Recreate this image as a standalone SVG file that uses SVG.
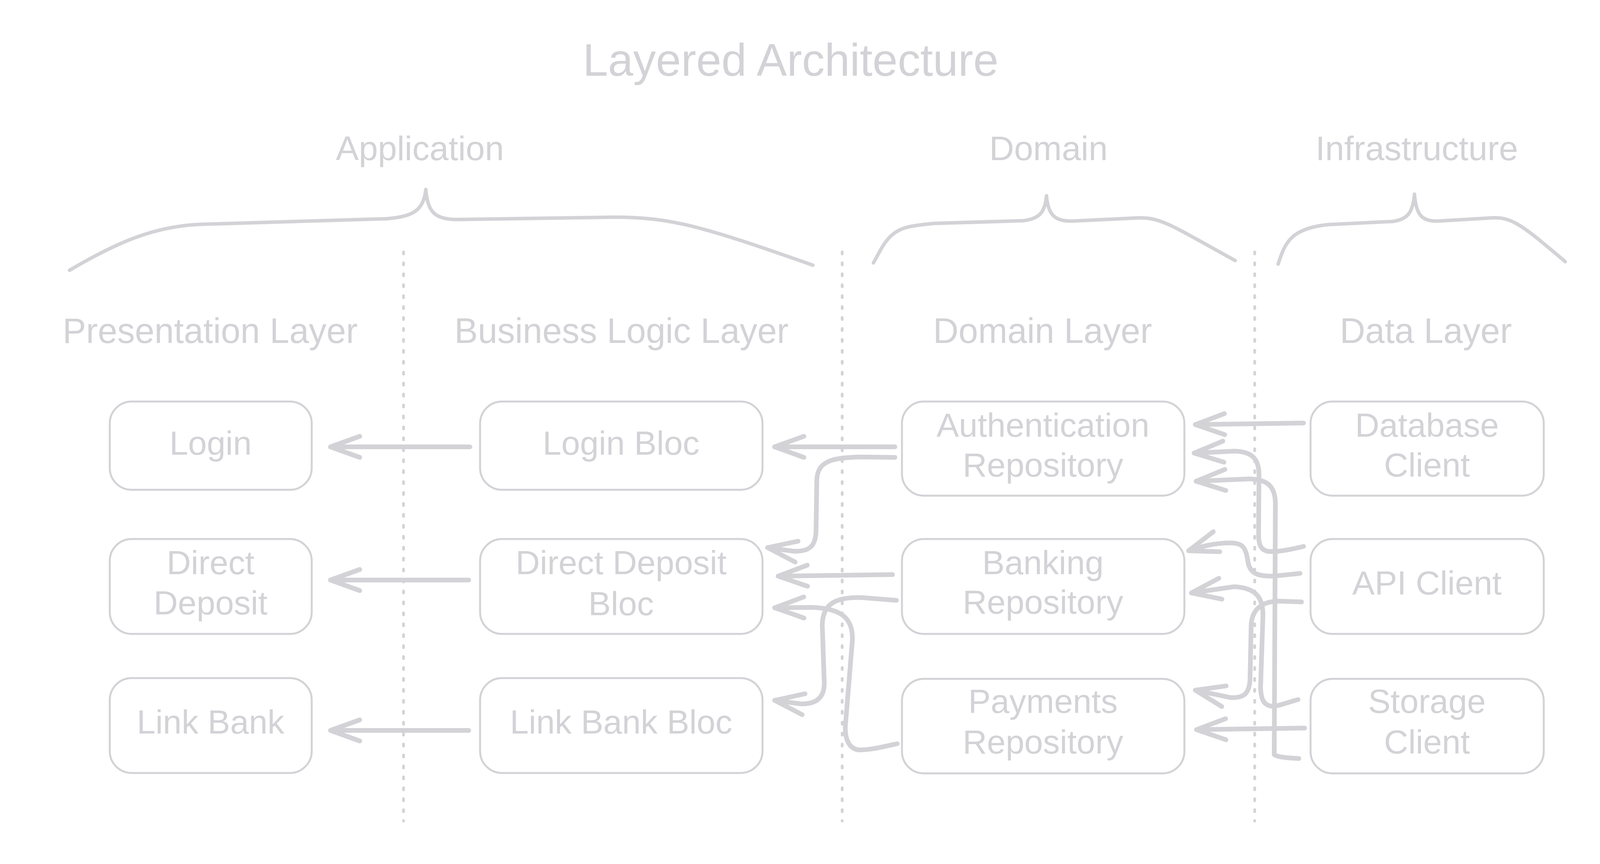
<svg xmlns="http://www.w3.org/2000/svg" width="4115" height="2212" viewBox="0 0 4115 2212">
<style>
.bg{fill:#ffffff}
.box{fill:none;stroke:#d3d2d6;stroke-width:5}
.conn{fill:none;stroke:#d3d2d6;stroke-width:12;stroke-linecap:round;stroke-linejoin:round;marker-end:url(#ah)}
.brace{fill:none;stroke:#d3d2d6;stroke-width:9;stroke-linecap:round;stroke-linejoin:round}
.divider{fill:none;stroke:#d3d2d6;stroke-width:7;stroke-linecap:round;stroke-dasharray:5 23}
text{font-family:"Liberation Sans",Arial,sans-serif;fill:#d3d2d6;text-anchor:middle}
.title{font-size:116px}
.group{font-size:88px}
.layer{font-size:90px}
.label{font-size:86px}
</style>
<defs>
<marker id="ah" markerUnits="userSpaceOnUse" markerWidth="100" markerHeight="80" viewBox="-90 -40 100 80" refX="0" refY="0" orient="auto" overflow="visible">
<path d="M-75,-27 L0,0 L-75,27" fill="none" stroke="#d3d2d6" stroke-width="12" stroke-linecap="round" stroke-linejoin="round"/>
</marker>
</defs>
<rect class="bg" x="0" y="0" width="4115" height="2212"/>

<g id="title">
<text class="title" x="2024" y="194">Layered Architecture</text>
</g>

<g id="groups">
<text class="group" x="1075" y="410">Application</text>
<text class="group" x="2684" y="410">Domain</text>
<text class="group" x="3627" y="410">Infrastructure</text>
</g>

<g id="braces">
<path class="brace" d="M178,692 C300,620 400,576 525,574 L990,560 C1055,555 1085,540 1090,485 C1095,540 1110,562 1170,562 L1570,556 C1720,556 1800,580 2081,679"/>
<path class="brace" d="M2236,673 C2260,630 2275,590 2330,580 C2350,576 2370,574 2390,572 L2620,565 C2660,560 2675,545 2679,501 C2683,550 2700,567 2745,566 L2910,558 C2970,555 2995,575 3162,667"/>
<path class="brace" d="M3272,676 C3290,620 3305,585 3400,575 L3565,567 C3600,562 3617,548 3621,497 C3625,550 3640,567 3680,566 L3815,558 C3870,554 3895,575 4007,670"/>
</g>

<g id="dividers">
<line class="divider" x1="1033" y1="645" x2="1033" y2="2102"/>
<line class="divider" x1="2156" y1="645" x2="2156" y2="2102"/>
<line class="divider" x1="3212" y1="645" x2="3212" y2="2102"/>
</g>

<g id="layers">
<text class="layer" x="538" y="878">Presentation Layer</text>
<text class="layer" x="1591" y="878">Business Logic Layer</text>
<text class="layer" x="2669" y="878">Domain Layer</text>
<text class="layer" x="3650" y="878">Data Layer</text>
</g>

<g id="login">
<rect class="box" x="281" y="1028" width="517" height="226" rx="56"/>
<text class="label" x="539" y="1164">Login</text>
</g>
<g id="direct-deposit">
<rect class="box" x="281" y="1380" width="517" height="243" rx="56"/>
<text class="label" x="539" y="1470">Direct</text>
<text class="label" x="539" y="1573">Deposit</text>
</g>
<g id="link-bank">
<rect class="box" x="281" y="1736" width="517" height="243" rx="56"/>
<text class="label" x="539" y="1878">Link Bank</text>
</g>

<g id="login-bloc">
<rect class="box" x="1229" y="1028" width="723" height="226" rx="56"/>
<text class="label" x="1590" y="1164">Login Bloc</text>
</g>
<g id="direct-deposit-bloc">
<rect class="box" x="1229" y="1380" width="723" height="243" rx="56"/>
<text class="label" x="1590" y="1470">Direct Deposit</text>
<text class="label" x="1590" y="1575">Bloc</text>
</g>
<g id="link-bank-bloc">
<rect class="box" x="1229" y="1736" width="723" height="243" rx="56"/>
<text class="label" x="1590" y="1878">Link Bank Bloc</text>
</g>

<g id="authentication-repository">
<rect class="box" x="2309" y="1028" width="723" height="241" rx="56"/>
<text class="label" x="2670" y="1118">Authentication</text>
<text class="label" x="2670" y="1220">Repository</text>
</g>
<g id="banking-repository">
<rect class="box" x="2309" y="1380" width="723" height="243" rx="56"/>
<text class="label" x="2670" y="1470">Banking</text>
<text class="label" x="2670" y="1571">Repository</text>
</g>
<g id="payments-repository">
<rect class="box" x="2309" y="1738" width="723" height="242" rx="56"/>
<text class="label" x="2670" y="1825">Payments</text>
<text class="label" x="2670" y="1929">Repository</text>
</g>

<g id="database-client">
<rect class="box" x="3355" y="1028" width="597" height="241" rx="56"/>
<text class="label" x="3653" y="1118">Database</text>
<text class="label" x="3653" y="1220">Client</text>
</g>
<g id="api-client">
<rect class="box" x="3355" y="1380" width="597" height="243" rx="56"/>
<text class="label" x="3653" y="1522">API Client</text>
</g>
<g id="storage-client">
<rect class="box" x="3355" y="1738" width="597" height="242" rx="56"/>
<text class="label" x="3653" y="1825">Storage</text>
<text class="label" x="3653" y="1929">Client</text>
</g>

<g id="connectors">
<path class="conn" d="M1203,1144 L846,1144"/>
<path class="conn" d="M1200,1485 L846,1485"/>
<path class="conn" d="M1200,1870 L846,1870"/>
<path class="conn" d="M2291,1144 L1983,1144"/>
<path class="conn" d="M2291,1171 L2207,1170 C2130,1171 2092,1180 2091,1230 L2089,1360 C2088,1400 2070,1413 2030,1411 L1965,1402"/>
<path class="conn" d="M2285,1471 L1992,1475"/>
<path class="conn" d="M2295,1537 L2207,1530 C2140,1528 2106,1545 2105,1600 L2110,1745 C2112,1790 2085,1803 2050,1802 L1983,1793"/>
<path class="conn" d="M2297,1904 C2260,1912 2230,1920 2200,1920 C2175,1918 2163,1895 2164,1860 L2182,1640 C2185,1580 2150,1558 2080,1555 L1983,1556"/>
<path class="conn" d="M3337,1083 L3060,1087"/>
<path class="conn" d="M3337,1399 C3300,1408 3270,1413 3250,1412 C3228,1410 3222,1395 3222,1370 L3223,1215 C3223,1170 3200,1156 3160,1155 L3057,1160"/>
<path class="conn" d="M3325,1942 C3290,1940 3270,1938 3262,1932 L3265,1290 C3265,1245 3245,1228 3200,1226 L3062,1232"/>
<path class="conn" d="M3328,1468 L3260,1475 C3215,1476 3200,1465 3195,1440 C3190,1400 3180,1390 3150,1390 C3110,1390 3080,1398 3043,1410"/>
<path class="conn" d="M3323,1791 C3290,1800 3270,1809 3255,1808 C3235,1805 3228,1790 3227,1760 L3233,1580 C3235,1530 3215,1505 3160,1502 L3050,1518"/>
<path class="conn" d="M3332,1541 L3270,1539 C3230,1541 3205,1560 3203,1600 L3200,1740 C3198,1780 3180,1787 3150,1786 L3060,1767"/>
<path class="conn" d="M3340,1864 L3063,1868"/>
</g>
</svg>
